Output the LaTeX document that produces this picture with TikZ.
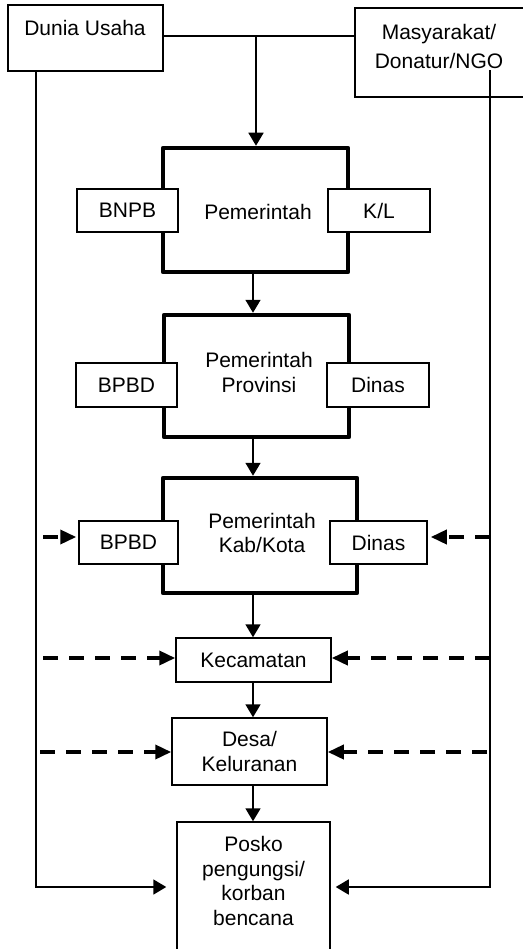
\documentclass[tikz,border=0pt]{standalone}
\usepackage{fontspec}
\setmainfont{Liberation Sans}
\usetikzlibrary{arrows.meta}
\begin{document}
\begin{tikzpicture}[x=1pt,y=-1pt,
 every node/.style={font=\fontsize{21}{24.5}\selectfont},
 box/.style={draw, line width=1.5pt, fill=white, inner sep=0pt, align=center},
 thickbox/.style={draw, line width=4.5pt, line join=round, inner sep=0pt},
 txt/.style={align=center, inner sep=0pt},
 conn/.style={line width=1.8pt},
 arr/.style={conn, -{Triangle[length=13pt,width=15pt]}},
 darr/.style={line width=3.6pt, dash pattern=on 15pt off 11pt, -{Triangle[length=16pt,width=14pt]}},
]
\useasboundingbox (0,0) rectangle (522,949);

% top boxes
\node[box, minimum width=155pt, minimum height=66pt] (dunia) at (85.5,38) {};
\node[txt] (duniat) at (85,28) {Dunia Usaha};
\node[box, minimum width=170pt, minimum height=89pt] (masy) at (440,52.5) {};
\node[txt, font=\fontsize{21}{29}\selectfont] (masyt) at (439,46) {Masyarakat/\\Donatur/NGO};

% Pemerintah
\node[thickbox, minimum width=185pt, minimum height=124pt] (pem) at (255.5,210) {};
\node[txt] (pemt) at (258,212) {Pemerintah};
\node[box, minimum width=101pt, minimum height=43pt] (bnpb) at (127.5,210.5) {BNPB};
\node[box, minimum width=102pt, minimum height=43pt] (kl) at (379,210.5) {K/L};

% Provinsi
\node[thickbox, minimum width=185pt, minimum height=122pt] (prov) at (256.5,376) {};
\node[txt] (provt) at (259,372.5) {Pemerintah\\Provinsi};
\node[box, minimum width=101pt, minimum height=44pt] (bpbda) at (126.5,385) {BPBD};
\node[box, minimum width=102pt, minimum height=44pt] (dinasa) at (378,385) {Dinas};

% Kab/Kota
\node[thickbox, minimum width=194pt, minimum height=115pt] (kab) at (260,535.5) {};
\node[txt] (kabt) at (262,533) {Pemerintah\\Kab/Kota};
\node[box, minimum width=99pt, minimum height=43pt] (bpbdb) at (128.5,542.5) {BPBD};
\node[box, minimum width=97pt, minimum height=43pt] (dinasb) at (378.5,542.5) {Dinas};

% lower boxes
\node[box, minimum width=155pt, minimum height=44pt] (kec) at (253.5,660) {Kecamatan};
\node[box, minimum width=155pt, minimum height=67pt] (desa) at (249.5,751.5) {Desa/\\Keluranan};
\node[box, minimum width=153pt, minimum height=130pt] (posko) at (253.5,887) {};
\node[txt] (poskot) at (253.5,881) {Posko\\pengungsi/\\korban\\bencana};

% connectors
\coordinate (spine) at (253,0);
\coordinate (topj) at (256,36);
\draw[conn] (dunia.east |- topj) -- (masy.west |- topj);
\draw[arr] (topj) -- (topj |- pem.north);
\draw[arr] (pem.south -| spine) -- (prov.north -| spine);
\draw[arr] (prov.south -| spine) -- (kab.north -| spine);
\draw[arr] (kab.south -| spine) -- (kec.north -| spine);
\draw[arr] (kec.south -| spine) -- (desa.north -| spine);
\draw[arr] (desa.south -| spine) -- (posko.north -| spine);

% side lines
\coordinate (lbend) at (36,887);
\draw[arr, shorten >=10pt] (dunia.south -| lbend) -- (lbend) -- (lbend -| posko.west);
\coordinate (rtop) at (490,70);
\coordinate (rbend) at (490,887);
\draw[arr, shorten >=5pt] (rtop) -- (rbend) -- (rbend -| posko.east);

% dashed arrows
\coordinate (lk) at (43,537);
\coordinate (rk) at (490,537);
\draw[darr, shorten >=2pt] (lk) -- (lk -| bpbdb.west);
\draw[darr, shorten >=3pt] (rk) -- (rk -| dinasb.east);
\coordinate (lc) at (43,658);
\coordinate (rc) at (490,658);
\draw[darr] (lc) -- (lc -| kec.west);
\draw[darr] (rc) -- (rc -| kec.east);
\coordinate (ld) at (40,752);
\coordinate (rd) at (487,752);
\draw[darr] (ld) -- (ld -| desa.west);
\draw[darr] (rd) -- (rd -| desa.east);
\end{tikzpicture}
\end{document}
